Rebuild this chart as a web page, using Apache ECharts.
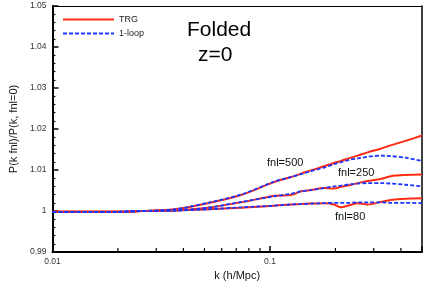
<!DOCTYPE html>
<html>
<head>
<meta charset="utf-8">
<script src="https://cdn.jsdelivr.net/npm/echarts@6/dist/echarts.min.js"></script>
<style>html,body{margin:0;padding:0;background:#fff}#c{width:429px;height:303px}</style>
</head>
<body>
<div id="c"></div>
<script>
const kValues = [0.01, 0.015, 0.02, 0.0256, 0.0363, 0.0518, 0.0736, 0.105, 0.125, 0.139, 0.154, 0.177, 0.197, 0.212, 0.232, 0.253, 0.281, 0.323, 0.359, 0.42, 0.5];
const trg500  = [0.9998, 0.9998, 0.9998, 1.0000, 1.0004, 1.0019, 1.0039, 1.0071, 1.0083, 1.0091, 1.0099, 1.0109, 1.0117, 1.0122, 1.0129, 1.0135, 1.0143, 1.0152, 1.0160, 1.0171, 1.0184];
const loop500 = [0.9998, 0.9998, 0.9998, 1.0000, 1.0004, 1.0020, 1.0040, 1.0072, 1.0083, 1.0090, 1.0097, 1.0106, 1.0114, 1.0119, 1.0125, 1.0128, 1.0132, 1.0135, 1.0134, 1.0130, 1.0122];
const trg250  = [0.9998, 0.9998, 0.9998, 1.0000, 1.0001, 1.0008, 1.0021, 1.0037, 1.0039, 1.0048, 1.0051, 1.0056, 1.0055, 1.0059, 1.0063, 1.0068, 1.0073, 1.0078, 1.0085, 1.0088, 1.0089];
const loop250 = [0.9998, 0.9998, 0.9998, 1.0000, 1.0001, 1.0008, 1.0022, 1.0036, 1.0042, 1.0048, 1.0051, 1.0056, 1.0060, 1.0062, 1.0065, 1.0067, 1.0068, 1.0068, 1.0067, 1.0064, 1.0060];
const trg80   = [0.9998, 0.9998, 0.9998, 1.0000, 1.0001, 1.0004, 1.0008, 1.0013, 1.0016, 1.0017, 1.0018, 1.0019, 1.0016, 1.0009, 1.0014, 1.0019, 1.0016, 1.0022, 1.0027, 1.0030, 1.0031];
const loop80  = [0.9998, 0.9998, 0.9998, 1.0000, 1.0001, 1.0004, 1.0009, 1.0013, 1.0016, 1.0017, 1.0018, 1.0019, 1.0020, 1.0020, 1.0020, 1.0021, 1.0021, 1.0021, 1.0020, 1.0020, 1.0019];
const xTickLabels = ['0.01', '0.1'];
const xMinorTicks = [0.02, 0.03, 0.04, 0.05, 0.06, 0.07, 0.08, 0.09, 0.2, 0.3, 0.4];
const yTickLabels = ['0.99', '1', '1.01', '1.02', '1.03', '1.04', '1.05'];
const curveLabels = ['fnl=500', 'fnl=250', 'fnl=80'];

const RED = '#ff2a14', BLUE = '#1a35ff';
const zip = v => kValues.map((k, i) => [k, v[i]]);
const trgStyle = {name: 'TRG', type: 'line', symbol: 'none', showSymbol: false, smooth: 0.3, z: 2,
  lineStyle: {color: RED, width: 2}, itemStyle: {color: RED}};
const loopStyle = {name: '1-loop', type: 'line', symbol: 'none', showSymbol: false, smooth: 0.3, z: 3,
  lineStyle: {color: BLUE, width: 1.8, type: [4, 2]}, itemStyle: {color: BLUE}};
const font = 'Liberation Sans';

const chart = echarts.init(document.getElementById('c'), null, {renderer: 'canvas'});
chart.setOption({
  animation: false,
  grid: {left: 51, top: 6, right: 7, bottom: 51, show: false},
  legend: {
    data: ['TRG', '1-loop'], orient: 'vertical', left: 62, top: 15, padding: 0,
    itemWidth: 51, itemHeight: 8, itemGap: 5,
    itemStyle: {opacity: 0},
    textStyle: {fontFamily: font, fontSize: 9, color: '#222'}
  },
  xAxis: [{
    type: 'log', logBase: 10, min: 0.01, max: 0.5,
    name: 'k (h/Mpc)', nameLocation: 'middle', nameGap: 18,
    nameTextStyle: {fontFamily: font, fontSize: 11, color: '#111'},
    axisLine: {show: true, onZero: false, lineStyle: {color: '#000', width: 2}},
    axisTick: {show: true, inside: true, length: 6, lineStyle: {color: '#000', width: 1.5}},
    splitLine: {show: false},
    axisLabel: {
      fontFamily: font, fontSize: 8.5, color: '#333', margin: 5,
      formatter: v => {
        const l = Math.log10(v);
        if (Math.abs(l - Math.round(l)) > 1e-6) return '';
        const idx = Math.round(l) + 2;
        return xTickLabels[idx] || '';
      }
    }
  }, {
    type: 'log', logBase: 10, min: 0.01, max: 0.5, position: 'top',
    axisLine: {show: true, onZero: false, lineStyle: {color: '#000', width: 1.2}},
    axisTick: {show: false}, axisLabel: {show: false}, splitLine: {show: false}
  }],
  yAxis: [{
    type: 'value', min: 0.99, max: 1.05, interval: 0.01,
    name: 'P(k fnl)/P(k, fnl=0)', nameLocation: 'middle', nameGap: 24,
    nameTextStyle: {fontFamily: font, fontSize: 11, color: '#111'},
    axisLine: {show: true, onZero: false, lineStyle: {color: '#000', width: 2}},
    axisTick: {show: true, inside: true, length: 6, lineStyle: {color: '#000', width: 1.5}},
    minorTick: {show: true, splitNumber: 5, length: 3, lineStyle: {color: '#000', width: 1.2}},
    splitLine: {show: false},
    axisLabel: {
      fontFamily: font, fontSize: 8.5, color: '#333', margin: 6,
      formatter: v => yTickLabels[Math.round((v - 0.99) * 100)] || ''
    }
  }, {
    type: 'value', min: 0.99, max: 1.05, interval: 0.01, position: 'right',
    axisLine: {show: true, onZero: false, lineStyle: {color: '#000', width: 1.5}},
    axisTick: {show: false}, axisLabel: {show: false}, splitLine: {show: false}
  }],
  series: [
    Object.assign({}, trgStyle, {data: zip(trg500)}),
    Object.assign({}, trgStyle, {data: zip(trg250)}),
    Object.assign({}, trgStyle, {data: zip(trg80)}),
    Object.assign({}, loopStyle, {data: zip(loop500)}),
    Object.assign({}, loopStyle, {data: zip(loop250)}),
    Object.assign({}, loopStyle, {data: zip(loop80)}),
    {
      type: 'custom', name: 'minor', silent: true, z: 5, clip: false,
      data: xMinorTicks.map(k => [k, 0.99]),
      renderItem: (params, api) => {
        const p = api.coord([api.value(0), api.value(1)]);
        return {type: 'line', shape: {x1: p[0], y1: p[1], x2: p[0], y2: p[1] - 4},
          style: {stroke: '#000', lineWidth: 1.2}};
      }
    }
  ],
  graphic: [
    {type: 'text', left: 187, top: 20, style: {text: 'Folded', font: '21px Liberation Sans', fill: '#000'}},
    {type: 'text', left: 198, top: 45, style: {text: 'z=0', font: '21px Liberation Sans', fill: '#000'}},
    {type: 'text', left: 267, top: 157, style: {text: curveLabels[0], font: '11px Liberation Sans', fill: '#111'}},
    {type: 'text', left: 338, top: 167, style: {text: curveLabels[1], font: '11px Liberation Sans', fill: '#111'}},
    {type: 'text', left: 335, top: 211, style: {text: curveLabels[2], font: '11px Liberation Sans', fill: '#111'}}
  ]
});
</script>
</body>
</html>
